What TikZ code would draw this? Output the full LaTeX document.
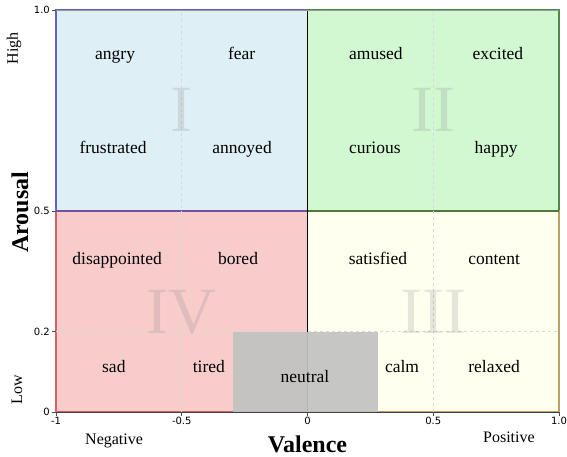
\documentclass[tikz,border=0pt]{standalone}
\usepackage{fontspec}
\setmainfont{Liberation Serif}
\newfontfamily\tickfont{DejaVu Sans}
\usetikzlibrary{positioning}

\definecolor{quadblue}{HTML}{DEEFF5}
\definecolor{quadgreen}{HTML}{D2F8D2}
\definecolor{quadred}{HTML}{F9CCCC}
\definecolor{quadyellow}{HTML}{FFFFF0}
\definecolor{neutralgray}{HTML}{C2C2C2}
\definecolor{edgeblue}{HTML}{6060C8}
\definecolor{edgegreen}{HTML}{4A8A4A}
\definecolor{edgered}{HTML}{D86060}
\definecolor{edgegold}{HTML}{C0A060}
\definecolor{edgepurple}{HTML}{7050A8}
\definecolor{edgeolive}{HTML}{507838}

\begin{document}
\begin{tikzpicture}
            [%%%%%%%%%%%%%%%%%%%%%%%%%%%%%%%%%%%%%%%%%%%%%%%%%%%%%%%%%%
                x=251.5pt,y=402pt,
                word/.style={font=\fontsize{17.5}{20}\selectfont,inner sep=0pt,anchor=base},
                numeral/.style={font=\fontsize{66}{66}\selectfont,text=gray,text opacity=0.2},
                quad/.style={line width=1.4pt},
                ticklabel/.style={font=\tickfont\fontsize{10}{12}\selectfont,inner sep=1pt},
                side/.style={font=\fontsize{16}{18}\selectfont,inner sep=0pt},
                axistitle/.style={font=\fontsize{24}{26}\selectfont\bfseries,inner sep=0pt},
                gridline/.style={dashed,black!15,line width=0.7pt}
            ]%%%%%%%%%%%%%%%%%%%%%%%%%%%%%%%%%%%%%%%%%%%%%%%%%%%%%%%%%%
            \useasboundingbox (-1.2227,-0.1119) rectangle (1.0318,1.0249);

            % quadrants
            \filldraw[quad,fill=quadblue,draw=edgeblue]   (-1,0.5) rectangle (0,1);
            \filldraw[quad,fill=quadgreen,draw=edgegreen] (0,0.5) rectangle (1,1);
            \filldraw[quad,fill=quadred,draw=edgered]     (-1,0) rectangle (0,0.5);
            \filldraw[quad,fill=quadyellow,draw=edgegold] (0,0) rectangle (1,0.5);
            \draw[quad,edgepurple] (-1,0.5) -- (0,0.5);
            \draw[quad,edgeolive]  (0,0.5) -- (1,0.5);

            % grid
            \foreach \gx in {-0.5,0.5}
                \draw[gridline] (\gx,0) -- (\gx,1);
            \draw[gridline] (-1,0.2) -- (1,0.2);
            \draw[line width=1.8pt] (0,0) -- (0,1);

            % numerals
            \node[numeral] (qI)   at (-0.5,0.751) {I};
            \node[numeral] (qII)  at (0.5,0.751)  {II};
            \node[numeral] (qIII) at (0.5,0.249)  {III};
            \node[numeral] (qIV)  at (-0.5,0.249) {IV};

            % neutral zone
            \fill[neutralgray,fill opacity=0.93] (-0.297,0) rectangle (0.28,0.2);

            % emotions
            \node[word] (angry)        at (-0.765,0.877) {angry};
            \node[word] (fear)         at (-0.262,0.877) {fear};
            \node[word] (frustrated)   at (-0.773,0.642) {frustrated};
            \node[word] (annoyed)      at (-0.260,0.642) {annoyed};
            \node[word] (amused)       at (0.272,0.877)  {amused};
            \node[word] (excited)      at (0.757,0.877)  {excited};
            \node[word] (curious)      at (0.268,0.642)  {curious};
            \node[word] (happy)        at (0.750,0.642)  {happy};
            \node[word] (disappointed) at (-0.757,0.366) {disappointed};
            \node[word] (bored)        at (-0.276,0.366) {bored};
            \node[word] (satisfied)    at (0.280,0.366)  {satisfied};
            \node[word] (content)      at (0.742,0.366)  {content};
            \node[word] (sad)          at (-0.770,0.0995) {sad};
            \node[word] (tired)        at (-0.392,0.0995) {tired};
            \node[word] (neutral)      at (-0.010,0.0746) {neutral};
            \node[word] (calm)         at (0.376,0.0995)  {calm};
            \node[word] (relaxed)      at (0.742,0.0995)  {relaxed};

            % spines and ticks
            \draw[black!40,line width=0.8pt] (-1,1) -- (1,1);
            \draw[black!75,line width=0.8pt] (-1,0) -- (1,0);
            \foreach \val/\txt [count=\i] in {0/0,0.2/0.2,0.5/0.5,1/1.0}{
                \draw[black!70,line width=0.7pt] (-1,\val) -- ++(-4pt,0);
                \node[ticklabel,anchor=east] (ytick\i) at ([xshift=-5pt]-1,\val) {\txt};
            }
            \foreach \val/\txt [count=\i] in {-1/-1,-0.5/-0.5,0/0,0.5/0.5,1/1.0}{
                \draw[black!70,line width=0.7pt] (\val,0) -- ++(0,-4pt);
                \node[ticklabel,anchor=north] (xtick\i) at ([yshift=-4pt]\val,0) {\txt};
            }

            % axis labels
            \node[side,anchor=base] (negative) at (-0.769,-0.082) {Negative};
            \node[side,anchor=base] (positive) at (0.801,-0.077)  {Positive};
            \node[axistitle,anchor=base] (valence) at (0,-0.1) {Valence};
            \node[side,rotate=90] (high) at (-1.167,0.905) {High};
            \node[side,rotate=90] (low)  at (-1.155,0.055) {Low};
            \node[axistitle,rotate=90] (arousal) at (-1.143,0.497) {Arousal};
        \end{tikzpicture}
\end{document}
